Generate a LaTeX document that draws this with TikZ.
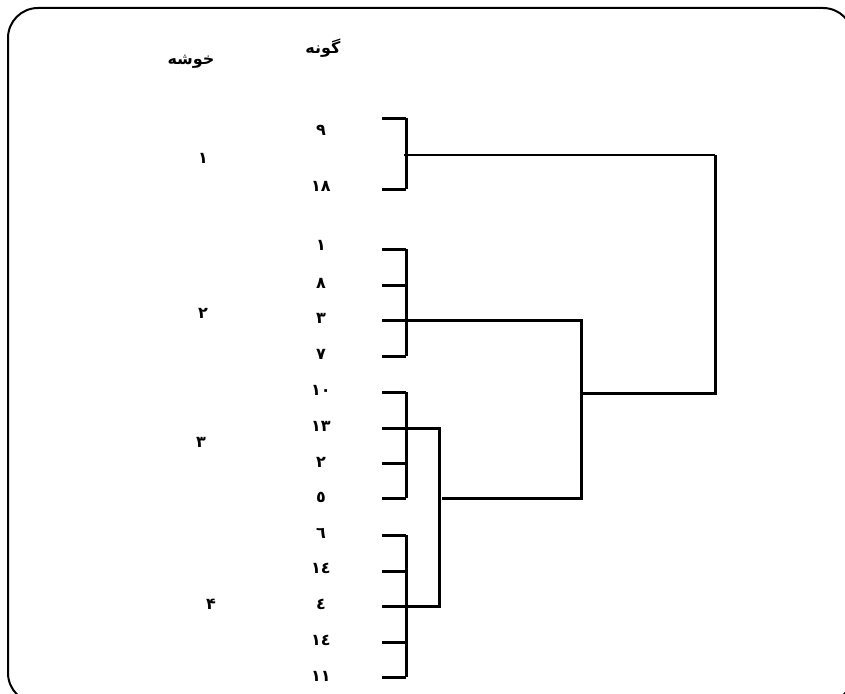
\documentclass[tikz,border=0pt]{standalone}
\usepackage{fontspec}
\newfontfamily\arabicfont[Script=Arabic]{DejaVu Sans}
\TeXXeTstate=1
\begin{document}
\begin{tikzpicture}[x=1pt,y=-1pt,
  lab/.style={font=\arabicfont\bfseries\fontsize{16}{17}\selectfont, inner sep=0pt},
  head/.style={font=\arabicfont\bfseries\fontsize{16}{17}\selectfont, inner sep=0pt},
  tree/.style={line width=3pt},
  thin/.style={line width=2.2pt}]
\useasboundingbox (0,0) rectangle (845,693);
\draw[line width=2pt, rounded corners=30pt] (8,8) rectangle (853,703);
% headers
\node[head] (hg) at (323,48) {\beginR گونه\endR};
\node[head] (hk) at (191,62) {\beginR خوشه\endR};
% cluster numbers
\node[lab] (c1) at (203,158) {۱};
\node[lab] (c2) at (203,313) {۲};
\node[lab] (c3) at (201,442) {۳};
\node[lab] (c4) at (211,604) {۴};
% leaves
\foreach \i/\t/\yl/\yt in {1/۹/118/130, 2/۱۸/189/186, 3/۱/249/245, 4/۸/285/283, 5/۳/320/318, 6/۷/356/354, 7/۱۰/392/390, 8/۱۳/428/426, 9/۲/463/462, 10/٥/498/497, 11/٦/535/533, 12/١٤/571/568, 13/٤/606/604, 14/١٤/642/640, 15/۱۱/677/676} {
  \coordinate (a\i) at (382,\yl);
  \coordinate (b\i) at (406,\yl);
  \node[lab] (t\i) at (321,\yt) {\t};
  \draw[tree] (a\i) -- (b\i);
}
% cluster brackets
\draw[tree] (b1) -- (b2);
\draw[tree] (b3) -- (b6);
\draw[tree] (b7) -- (b10);
\draw[tree] (b11) -- (b15);
% joins
\coordinate (m1) at (404,155);
\coordinate (r1) at (715,155);
\coordinate (r2) at (715,393);
\coordinate (p2) at (581,393);
\coordinate (q1) at (581,320);
\coordinate (q2) at (581,498);
\coordinate (s2) at (442,498);
\coordinate (u1) at (439,428);
\coordinate (u2) at (439,606);
\draw[thin] (m1) -- (r1);
\draw[tree] (r1) -- (r2) -- (p2);
\draw[tree] (a5) -- (q1) -- (q2) -- (s2);
\draw[tree] (a8) -- (u1) -- (u2) -- (a13);
\end{tikzpicture}
\end{document}
